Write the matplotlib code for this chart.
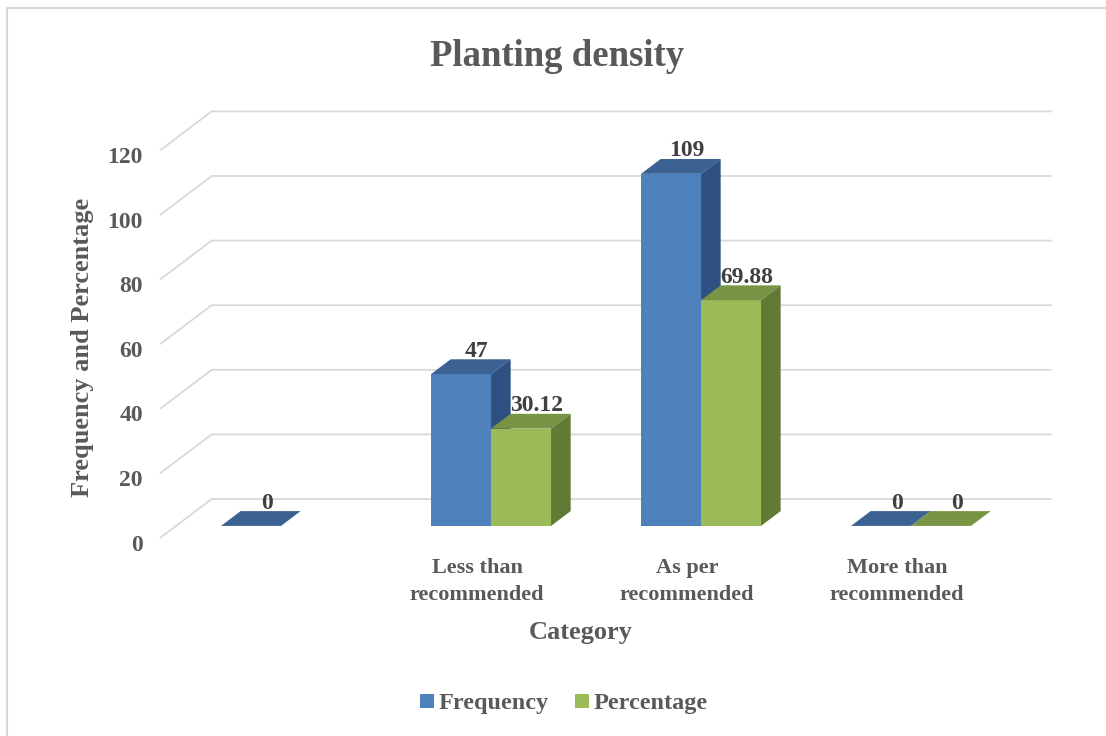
import matplotlib.pyplot as plt
from matplotlib.patches import Polygon, Rectangle, Patch
import numpy as np

categories = ['', 'Less than\nrecommended', 'As per\nrecommended', 'More than\nrecommended']
frequency = [0, 47, 109, 0]
percentage = [np.nan, 30.12, 69.88, 0]
yticks = [0, 20, 40, 60, 80, 100, 120]

series = [
    ('Frequency', frequency, '#4F81BD', '#3C6293', '#2F5181'),
    ('Percentage', percentage, '#9BBB59', '#789445', '#617A35'),
]

# layout of the fake 3d box (pixels)
W, H = 1106, 736
PX_CAT = 210.0      # pixels per category
PX_VAL = 3.23       # pixels per value unit
X0, Y0 = 265.0, 538.0   # front floor point for category 0, value 0
DEPTH_X = 51.7 / PX_CAT  # full depth shift in data units
DEPTH_Y = 39.0 / PX_VAL
BAR_D0, BAR_D1 = 0.31, 0.69  # bar front/back depth fraction
BAR_W = 60.0 / PX_CAT

TXT = '#595959'
SERIF = 'Liberation Serif'

fig = plt.figure(figsize=(W / 100, H / 100), dpi=100)
ax = fig.add_axes([0, 0, 1, 1])
ax.set_xlim(-X0 / PX_CAT, (W - X0) / PX_CAT)
ax.set_ylim((Y0 - H) / PX_VAL, Y0 / PX_VAL)
ax.axis('off')

# chart border
fig.patches.append(Rectangle((7 / W, -0.05), 1.1, 1 - 8 / H + 0.05, transform=fig.transFigure,
                             fill=False, ec='#D9D9D9', lw=1.5, zorder=0))

# gridlines: side wall diagonal then back wall
xl, xr = -0.5, len(categories) - 0.5
for v in yticks:
    ax.plot([xl, xl + DEPTH_X, xr + DEPTH_X], [v, v + DEPTH_Y, v + DEPTH_Y],
            color='#D9D9D9', lw=1.3, zorder=1, solid_capstyle='butt')
    ax.text(-0.581, v - 2.2, str(v), ha='right', va='center', fontsize=17,
            fontweight='bold', color=TXT, family=SERIF)

ox0, oy0 = BAR_D0 * DEPTH_X, BAR_D0 * DEPTH_Y
ox1, oy1 = BAR_D1 * DEPTH_X, BAR_D1 * DEPTH_Y

for k, (name, vals, front, top, side) in enumerate(series):
    for i, v in enumerate(vals):
        if np.isnan(v):
            continue
        a = i - BAR_W + k * BAR_W
        b = a + BAR_W
        z = 2 + k
        ax.add_patch(Rectangle((a + ox0, oy0), BAR_W, v, fc=front, ec='none', zorder=z))
        ax.add_patch(Polygon([(a + ox0, v + oy0), (b + ox0, v + oy0),
                              (b + ox1, v + oy1), (a + ox1, v + oy1)],
                             fc=top, ec='none', zorder=z))
        ax.add_patch(Polygon([(b + ox0, oy0), (b + ox1, oy1),
                              (b + ox1, v + oy1), (b + ox0, v + oy0)],
                             fc=side, ec='none', zorder=z))
        ax.text((a + b) / 2 + ox1 - 0.018, v + oy1 + 0.8, f'{v:g}', ha='center',
                va='baseline', fontsize=17, fontweight='bold', color='#404040',
                family=SERIF, zorder=5)

for i, lab in enumerate(categories):
    ax.text(i + 0.01, (Y0 - 558) / PX_VAL, lab, ha='center', va='top', fontsize=16,
            fontweight='bold', color=TXT, family=SERIF, linespacing=1.5)

fig.text(581 / W, 1 - 633 / H, 'Category', ha='center', va='center', fontsize=19,
         fontweight='bold', color=TXT, family=SERIF)
fig.text(83 / W, 1 - 347 / H, 'Frequency and Percentage', ha='center', va='center',
         rotation=90, fontsize=19, fontweight='bold', color=TXT, family=SERIF)
fig.text(557 / W, 1 - 66 / H, 'Planting density', ha='center', va='baseline', fontsize=26.5,
         fontweight='bold', color=TXT, family=SERIF)

handles = [Patch(fc=s[2], ec='none', label=s[0]) for s in series]
fig.legend(handles=handles, loc='center', bbox_to_anchor=(564 / W, 1 - 704 / H), ncol=2,
           frameon=False, handlelength=0.55, handleheight=0.55, handletextpad=0.2,
           columnspacing=1.1, prop={'family': SERIF, 'weight': 'bold', 'size': 17.5},
           labelcolor=TXT)

fig.savefig('out.png', dpi=100)
